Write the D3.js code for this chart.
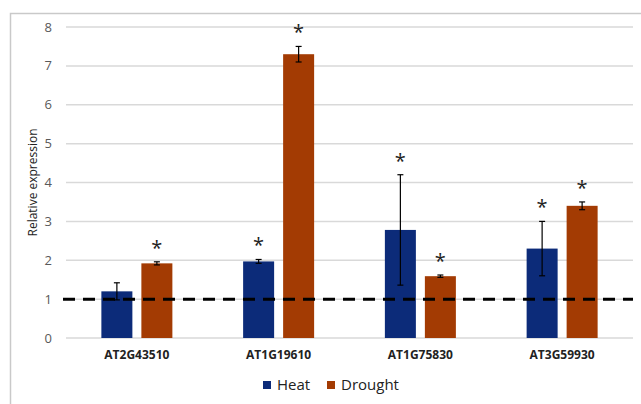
<!DOCTYPE html>
<html>
<head>
<meta charset="utf-8">
<script src="https://cdn.jsdelivr.net/npm/d3@7"></script>
<style>
	body { margin: 0; background: #fff; }
	svg { display: block; font-family: "Open Sans", "Noto Sans", sans-serif; }
</style>
</head>
<body>
<svg id="svg" width="641" height="404"></svg>
<script>
"use strict";

// data
const genes = ["AT2G43510", "AT1G19610", "AT1G75830", "AT3G59930"];
const seriesNames = ["Heat", "Drought"];
const heatValues = [1.2, 1.97, 2.78, 2.3];
const heatErrors = [0.22, 0.05, 1.42, 0.7];
const heatStars = [false, true, true, true];
const droughtValues = [1.92, 7.3, 1.59, 3.4];
const droughtErrors = [0.04, 0.2, 0.03, 0.1];
const droughtStars = [true, true, true, true];
const yTicks = [0, 1, 2, 3, 4, 5, 6, 7, 8];
const baseline = 1;

const colors = { Heat: "#0c2b79", Drought: "#a33b03" };

const svg = d3.select("#svg");

// chart frame (only top and left edges visible)
svg.append("path")
	.attr("d", "M10.5,404 V13.5 H641")
	.attr("fill", "none")
	.attr("stroke", "#c9c9c9")
	.attr("stroke-width", 1.5);

const margin = { left: 66, right: 8, top: 27, bottom: 66 };
const width = 641 - margin.left - margin.right;
const plotBottom = 338;

const x0 = d3.scaleBand().domain(genes).range([margin.left, margin.left + width]);
const groupW = 71; // two bars + gap
const x1 = d3.scaleBand()
	.domain(seriesNames)
	.range([(x0.bandwidth() - groupW) / 2, (x0.bandwidth() + groupW) / 2])
	.paddingInner(0.225);
const y = d3.scaleLinear().domain([0, 8]).range([plotBottom, margin.top]);

// gridlines
svg.append("g")
	.selectAll("line")
	.data(yTicks)
	.enter()
	.append("line")
	.attr("x1", margin.left)
	.attr("x2", margin.left + width)
	.attr("y1", (d) => y(d))
	.attr("y2", (d) => y(d))
	.attr("stroke", "#d9d9d9")
	.attr("stroke-width", 1.5);

// y tick labels
svg.append("g")
	.selectAll("text")
	.data(yTicks)
	.enter()
	.append("text")
	.attr("x", 52)
	.attr("y", (d) => y(d))
	.attr("dy", "0.35em")
	.attr("text-anchor", "end")
	.attr("font-size", 13)
	.attr("fill", "#595959")
	.text((d) => d);

// y axis title
svg.append("text")
	.attr("transform", `translate(37,${(y(0) + y(8)) / 2}) rotate(-90)`)
	.attr("text-anchor", "middle")
	.attr("font-size", 12)
	.attr("fill", "#222")
	.text("Relative expression");

// build rows
const rows = genes.map((g, i) => ({
	gene: g,
	bars: [
		{ key: "Heat", value: heatValues[i], err: heatErrors[i], star: heatStars[i] },
		{ key: "Drought", value: droughtValues[i], err: droughtErrors[i], star: droughtStars[i] },
	],
}));

const group = svg.append("g")
	.selectAll(".gene")
	.data(rows)
	.enter()
	.append("g")
	.attr("class", "gene")
	.attr("transform", (d) => `translate(${x0(d.gene)},0)`);

const bar = group.selectAll(".bar")
	.data((d) => d.bars)
	.enter()
	.append("g")
	.attr("class", "bar");

bar.append("rect")
	.attr("x", (d) => x1(d.key))
	.attr("width", x1.bandwidth())
	.attr("y", (d) => y(d.value))
	.attr("height", (d) => y(0) - y(d.value))
	.attr("fill", (d) => colors[d.key]);

// error bars
const cx = (d) => x1(d.key) + x1.bandwidth() / 2;
bar.append("line")
	.attr("x1", cx)
	.attr("x2", cx)
	.attr("y1", (d) => y(d.value + d.err))
	.attr("y2", (d) => y(d.value - d.err))
	.attr("stroke", "#000")
	.attr("stroke-width", 1.2);
bar.append("line")
	.attr("x1", (d) => cx(d) - 3)
	.attr("x2", (d) => cx(d) + 3)
	.attr("y1", (d) => y(d.value + d.err))
	.attr("y2", (d) => y(d.value + d.err))
	.attr("stroke", "#000")
	.attr("stroke-width", 1.2);
bar.append("line")
	.attr("x1", (d) => cx(d) - 3)
	.attr("x2", (d) => cx(d) + 3)
	.attr("y1", (d) => y(d.value - d.err))
	.attr("y2", (d) => y(d.value - d.err))
	.attr("stroke", "#000")
	.attr("stroke-width", 1.2);

// significance stars
bar.filter((d) => d.star)
	.append("text")
	.attr("x", cx)
	.attr("y", (d) => y(d.value + d.err) - 7)
	.attr("text-anchor", "middle")
	.attr("font-size", 20)
	.attr("fill", "#222")
	.text("*");

// category labels
svg.append("g")
	.selectAll("text")
	.data(genes)
	.enter()
	.append("text")
	.attr("x", (d) => x0(d) + x0.bandwidth() / 2)
	.attr("y", 355)
	.attr("dy", "0.35em")
	.attr("text-anchor", "middle")
	.attr("font-size", 12)
	.attr("font-weight", "bold")
	.attr("fill", "#222")
	.text((d) => d);

// dashed reference line at 1
svg.append("line")
	.attr("x1", 63)
	.attr("x2", margin.left + width)
	.attr("y1", y(baseline))
	.attr("y2", y(baseline))
	.attr("stroke", "#000")
	.attr("stroke-width", 3)
	.attr("stroke-dasharray", "12,8");

// legend
const legend = svg.append("g").attr("transform", "translate(263,385)");
const legendX = [0, 64];
const item = legend.selectAll("g")
	.data(seriesNames)
	.enter()
	.append("g")
	.attr("transform", (d, i) => `translate(${legendX[i]},0)`);
item.append("rect")
	.attr("x", 0)
	.attr("y", -4)
	.attr("width", 8)
	.attr("height", 8)
	.attr("fill", (d) => colors[d]);
item.append("text")
	.attr("x", 14)
	.attr("dy", "0.35em")
	.attr("font-size", 15)
	.attr("fill", "#222")
	.text((d) => d);
</script>
</body>
</html>
